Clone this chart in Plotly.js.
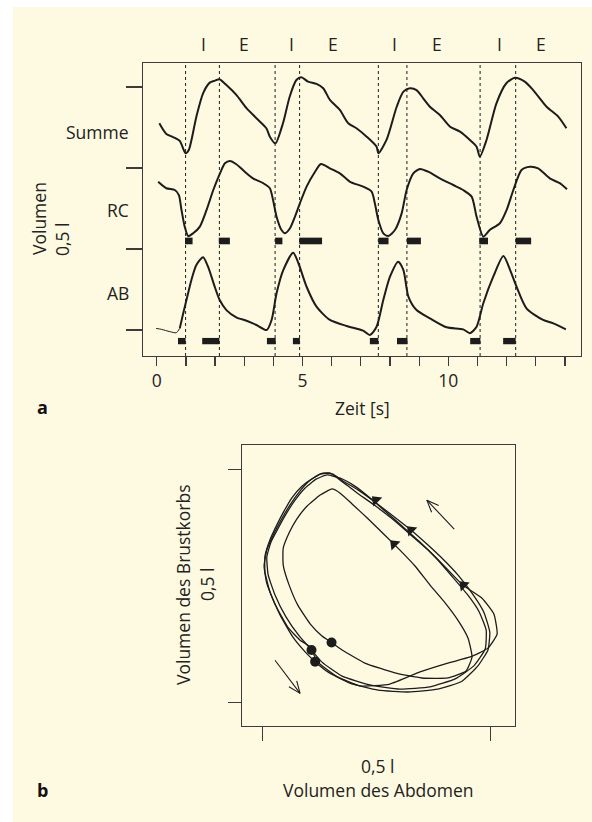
<!DOCTYPE html>
<html>
<head>
<meta charset="utf-8">
<script src="https://cdn.plot.ly/plotly-3.0.1.min.js"></script>
<style>
  html, body { margin: 0; padding: 0; background: #ffffff; }
  #chart { width: 592px; height: 822px; }
</style>
</head>
<body>
<div id="chart"></div>
<script>
// ---------- Panel a: time series (time in s, volume in l) ----------
const sumT = [0.09,0.33,0.56,0.79,0.99,1.10,1.36,1.59,1.82,2.00,2.15,2.39,2.73,3.08,3.42,3.76,3.88,4.07,4.33,4.56,4.79,4.96,5.19,5.48,5.71,5.94,6.28,6.57,6.85,7.20,7.54,7.60,7.88,8.23,8.46,8.68,8.91,9.14,9.37,9.71,10.06,10.40,10.74,10.97,11.08,11.31,11.65,11.99,12.28,12.62,12.91,13.37,13.77,14.05];
const sumV = [1.276,1.210,1.191,1.167,1.091,1.111,1.317,1.461,1.527,1.539,1.548,1.512,1.451,1.369,1.307,1.245,1.193,1.152,1.276,1.440,1.543,1.560,1.533,1.519,1.492,1.420,1.358,1.276,1.245,1.193,1.131,1.091,1.173,1.378,1.471,1.492,1.481,1.430,1.378,1.327,1.255,1.224,1.173,1.131,1.070,1.173,1.399,1.523,1.557,1.533,1.481,1.378,1.317,1.245];

const rcT = [0.05,0.33,0.62,0.76,0.85,0.96,1.08,1.25,1.48,1.71,1.94,2.17,2.34,2.51,2.73,3.02,3.30,3.65,3.88,3.99,4.11,4.28,4.40,4.57,4.74,4.91,5.14,5.43,5.63,5.94,6.28,6.63,7.08,7.37,7.48,7.60,7.77,7.94,8.17,8.40,8.57,8.80,9.03,9.31,9.71,10.17,10.51,10.80,10.97,11.20,11.42,11.77,12.00,12.23,12.51,12.80,13.08,13.48,13.82,14.07];
const rcV = [0.915,0.875,0.864,0.833,0.741,0.638,0.580,0.597,0.638,0.741,0.864,0.967,1.029,1.043,1.023,0.977,0.936,0.906,0.875,0.802,0.699,0.617,0.597,0.628,0.699,0.782,0.885,0.977,1.025,0.998,0.967,0.915,0.885,0.854,0.782,0.679,0.597,0.580,0.617,0.720,0.864,0.967,0.994,0.977,0.936,0.895,0.864,0.823,0.699,0.576,0.617,0.659,0.741,0.864,0.988,1.008,0.998,0.936,0.906,0.869];

const abT = [-0.02,0.16,0.45,0.67,0.79,0.91,1.02,1.19,1.36,1.59,1.76,1.99,2.16,2.39,2.73,3.08,3.42,3.77,3.94,4.11,4.34,4.68,4.86,5.14,5.48,5.94,6.51,7.08,7.31,7.54,7.77,8.00,8.28,8.46,8.63,8.91,9.37,9.94,10.51,10.74,10.97,11.20,11.54,11.89,12.12,12.34,12.68,13.25,13.60,14.03];
const abV = [0.010,0.004,-0.010,-0.017,0.010,0.103,0.185,0.309,0.401,0.449,0.391,0.267,0.185,0.123,0.078,0.057,0.031,0.000,0.062,0.227,0.370,0.477,0.412,0.267,0.144,0.062,0.025,-0.004,-0.031,0.020,0.185,0.329,0.422,0.370,0.206,0.123,0.072,0.017,0.004,-0.020,0.020,0.165,0.329,0.457,0.370,0.267,0.134,0.062,0.041,0.004];
// the AB trace is drawn thin up to this sample (faint start of the recording)
const abThinUntil = 4;

// I / E phase boundaries (dotted lines), s
const phaseLines = [0.99, 2.15, 4.06, 4.90, 7.60, 8.58, 11.09, 12.31];
// phase labels above the panel
const phaseLabels = ['I','E','I','E','I','E','I','E'];
const phaseLabelT = [1.59, 2.99, 4.61, 6.05, 8.17, 9.61, 11.74, 13.18];

// black activity bars (start / end, s)
const rcBarStart = [0.97, 2.13, 4.06, 4.89, 7.60, 8.58, 11.06, 12.31];
const rcBarEnd   = [1.23, 2.51, 4.31, 5.67, 7.95, 9.06, 11.36, 12.84];
const abBarStart = [0.73, 1.56, 3.78, 4.67, 7.31, 8.24, 10.75, 11.88];
const abBarEnd   = [0.99, 2.15, 4.08, 4.91, 7.60, 8.60, 11.10, 12.31];

const xTicks = [0,1,2,3,4,5,6,7,8,9,10,11,12,13,14];
const xTickText = ['0','','','','','5','','','','','10','','','',''];
const yTicks = [0, 0.5, 1.0, 1.5];
const traceNames = ['Summe','RC','AB'];

// ---------- Panel b: loops (Abdomen vs. Brustkorb, l) ----------
const loop1X = [0.151,0.174,0.224,0.290,0.349,0.406,0.446,0.459,0.450,0.428,0.400,0.367,0.334,0.301,0.268,0.231,0.196,0.170,0.152,0.126,0.097,0.075,0.058,0.045,0.045,0.058,0.077,0.104,0.130,0.151];
const loop1Y = [0.129,0.113,0.085,0.064,0.053,0.053,0.068,0.098,0.139,0.177,0.214,0.252,0.293,0.327,0.359,0.394,0.426,0.449,0.458,0.445,0.421,0.394,0.364,0.331,0.295,0.252,0.209,0.169,0.143,0.129];
const loop2X = [0.107,0.130,0.174,0.235,0.301,0.367,0.422,0.463,0.488,0.490,0.474,0.448,0.415,0.380,0.343,0.305,0.270,0.235,0.202,0.170,0.141,0.117,0.093,0.071,0.051,0.034,0.018,0.009,0.012,0.027,0.051,0.080,0.107];
const loop2Y = [0.113,0.087,0.057,0.038,0.029,0.034,0.051,0.079,0.115,0.156,0.196,0.233,0.271,0.310,0.346,0.379,0.409,0.439,0.464,0.481,0.488,0.479,0.460,0.434,0.404,0.374,0.344,0.312,0.274,0.231,0.184,0.143,0.113];
const loop3X = [0.115,0.143,0.191,0.253,0.319,0.384,0.437,0.472,0.494,0.498,0.485,0.459,0.428,0.395,0.360,0.325,0.286,0.246,0.209,0.176,0.154,0.132,0.110,0.086,0.064,0.047,0.031,0.016,0.005,0.005,0.016,0.038,0.066,0.093,0.115];
const loop3Y = [0.088,0.066,0.042,0.027,0.023,0.029,0.046,0.079,0.113,0.151,0.194,0.235,0.274,0.308,0.340,0.370,0.400,0.430,0.456,0.475,0.490,0.492,0.481,0.464,0.439,0.411,0.381,0.349,0.314,0.280,0.237,0.188,0.141,0.109,0.088];
const loop4X = [0.102,0.121,0.161,0.213,0.279,0.345,0.406,0.455,0.494,0.514,0.507,0.481,0.439,0.400,0.363,0.323,0.284,0.244,0.205,0.170,0.148,0.126,0.102,0.082,0.060,0.040,0.023,0.009,0.003,0.009,0.027,0.055,0.082,0.102];
const loop4Y = [0.121,0.087,0.057,0.036,0.040,0.066,0.085,0.098,0.117,0.147,0.190,0.224,0.252,0.291,0.327,0.361,0.394,0.424,0.451,0.477,0.492,0.490,0.475,0.454,0.424,0.391,0.359,0.327,0.293,0.256,0.211,0.162,0.134,0.121];

const dotX = [0.151, 0.107, 0.115];
const dotY = [0.129, 0.113, 0.088];
const triX = [0.288, 0.248, 0.325, 0.440];
const triY = [0.340, 0.434, 0.370, 0.252];

// direction arrows: tail -> head
const arrowTailX = [0.420, 0.027];
const arrowTailY = [0.372, 0.091];
const arrowHeadX = [0.360, 0.082];
const arrowHeadY = [0.434, 0.020];

const loopTicks = [0, 0.5];

// ---------- styling ----------
const INK = '#1c1c1c';
const AXC = '#3b3b3b';
const CREAM = '#fefae1';
const FONT = '"Open Sans", "Noto Sans", sans-serif';
const FS = 17.5;

// pixel helpers for paper-positioned text (figure is 592 x 822, zero margins)
const W = 592, H = 822;
const px = v => v / W;
const py = v => 1 - v / H;

// panel b geometry (pixels) and ranges
const B_XPIX = [242, 515], B_YPIX = [726, 445];
const B_XRANGE = [-0.0454, 0.5533], B_YRANGE = [-0.0499, 0.5522];
const kx = (B_XPIX[1] - B_XPIX[0]) / (B_XRANGE[1] - B_XRANGE[0]);
const ky = (B_YPIX[0] - B_YPIX[1]) / (B_YRANGE[1] - B_YRANGE[0]);

const traces = [];
[[sumT, sumV], [rcT, rcV]].forEach((d, i) => {
  traces.push({
    type: 'scatter', mode: 'lines', x: d[0], y: d[1], name: traceNames[i],
    xaxis: 'x', yaxis: 'y',
    line: { color: INK, width: 2, shape: 'spline', smoothing: 0.7 },
    hoverinfo: 'skip', showlegend: false
  });
});
traces.push({
  type: 'scatter', mode: 'lines', x: abT.slice(0, abThinUntil + 1), y: abV.slice(0, abThinUntil + 1),
  name: traceNames[2], xaxis: 'x', yaxis: 'y',
  line: { color: INK, width: 1, shape: 'spline', smoothing: 0.7 }, hoverinfo: 'skip', showlegend: false
});
traces.push({
  type: 'scatter', mode: 'lines', x: abT.slice(abThinUntil), y: abV.slice(abThinUntil),
  name: traceNames[2], xaxis: 'x', yaxis: 'y',
  line: { color: INK, width: 2, shape: 'spline', smoothing: 0.7 }, hoverinfo: 'skip', showlegend: false
});

[[loop1X, loop1Y], [loop2X, loop2Y], [loop3X, loop3Y], [loop4X, loop4Y]].forEach((d, i) => {
  traces.push({
    type: 'scatter', mode: 'lines', x: d[0], y: d[1], name: 'Loop ' + (i + 1),
    xaxis: 'x2', yaxis: 'y2',
    line: { color: INK, width: 1.3, shape: 'spline', smoothing: 0.45 },
    hoverinfo: 'skip', showlegend: false
  });
});

traces.push({
  type: 'scatter', mode: 'markers', x: dotX, y: dotY, xaxis: 'x2', yaxis: 'y2',
  marker: { color: INK, size: 10, line: { width: 0 } }, showlegend: false, hoverinfo: 'skip'
});
traces.push({
  type: 'scatter', mode: 'markers', x: triX, y: triY, xaxis: 'x2', yaxis: 'y2',
  marker: { color: INK, size: 11, symbol: 'triangle-up', angle: -45, line: { width: 0 } },
  showlegend: false, hoverinfo: 'skip'
});

// open-headed direction arrows (shaft + two barbs), barbs built in pixel space
const BARB = 13, HALF = 22 * Math.PI / 180;
const ax = [], ay = [];
arrowHeadX.forEach((hx, i) => {
  const hy = arrowHeadY[i], tx = arrowTailX[i], ty = arrowTailY[i];
  const dx = (hx - tx) * kx, dy = (hy - ty) * ky;
  const L = Math.hypot(dx, dy);
  const vx = -dx / L, vy = -dy / L;
  const barb = s => {
    const c = Math.cos(s * HALF), sn = Math.sin(s * HALF);
    const rx = vx * c - vy * sn, ry = vx * sn + vy * c;
    return [hx + BARB * rx / kx, hy + BARB * ry / ky];
  };
  const b1 = barb(1), b2 = barb(-1);
  ax.push(tx, hx, null, b1[0], hx, b2[0], null);
  ay.push(ty, hy, null, b1[1], hy, b2[1], null);
});
traces.push({
  type: 'scatter', mode: 'lines', x: ax, y: ay, xaxis: 'x2', yaxis: 'y2',
  line: { color: INK, width: 1.1 }, showlegend: false, hoverinfo: 'skip', connectgaps: false
});

const shapes = [];
// cream page background
shapes.push({ type: 'rect', xref: 'paper', yref: 'paper', x0: px(13), x1: 1, y0: 0, y1: py(7),
  fillcolor: CREAM, line: { width: 0 }, layer: 'below' });
// dotted phase lines
phaseLines.forEach(t => shapes.push({
  type: 'line', xref: 'x', yref: 'y domain', x0: t, x1: t, y0: 0, y1: 1,
  line: { color: INK, width: 1, dash: 'dot' }
}));
// black bars
const RC_BAR = [0.529, 0.570], AB_BAR = [-0.088, -0.049];
rcBarStart.forEach((s, i) => shapes.push({
  type: 'rect', xref: 'x', yref: 'y', x0: s, x1: rcBarEnd[i], y0: RC_BAR[0], y1: RC_BAR[1],
  fillcolor: INK, line: { width: 0 }
}));
abBarStart.forEach((s, i) => shapes.push({
  type: 'rect', xref: 'x', yref: 'y', x0: s, x1: abBarEnd[i], y0: AB_BAR[0], y1: AB_BAR[1],
  fillcolor: INK, line: { width: 0 }
}));

const txt = (text, x, y, opts) => Object.assign({
  text, x, y, xref: 'paper', yref: 'paper', showarrow: false,
  xanchor: 'center', yanchor: 'middle',
  font: { family: FONT, size: FS, color: '#222' }
}, opts || {});

const annotations = [];
phaseLabels.forEach((l, i) => annotations.push({
  text: l, x: phaseLabelT[i], xref: 'x', y: py(44), yref: 'paper', showarrow: false,
  xanchor: 'center', yanchor: 'middle', font: { family: FONT, size: FS, color: '#222' }
}));
annotations.push(txt(traceNames[0], px(131), py(132), { xanchor: 'right' }));
annotations.push(txt(traceNames[1], px(131), py(210), { xanchor: 'right' }));
annotations.push(txt(traceNames[2], px(131), py(293), { xanchor: 'right' }));
annotations.push(txt('Volumen', px(39), py(218), { textangle: -90 }));
annotations.push(txt('0,5 l', px(62), py(239), { textangle: -90 }));
annotations.push(txt('Zeit [s]', px(362), py(408)));
annotations.push(txt('<b>a</b>', px(42), py(407), { font: { family: FONT, size: 18, color: '#111' } }));
annotations.push(txt('<b>b</b>', px(42), py(790), { font: { family: FONT, size: 18, color: '#111' } }));
annotations.push(txt('0,5 l', px(378), py(766)));
annotations.push(txt('Volumen des Abdomen', px(378), py(790)));
annotations.push(txt('Volumen des Brustkorbs', px(183), py(585), { textangle: -90 }));
annotations.push(txt('0,5 l', px(207), py(584), { textangle: -90 }));

const axisCommon = {
  showgrid: false, zeroline: false, showline: true, mirror: true,
  linecolor: AXC, linewidth: 1.4, ticks: 'outside', tickcolor: AXC, tickwidth: 1.3,
  tickmode: 'array', fixedrange: true
};

const layout = {
  width: W, height: H,
  margin: { l: 0, r: 0, t: 0, b: 0 },
  paper_bgcolor: '#ffffff', plot_bgcolor: 'rgba(0,0,0,0)',
  font: { family: FONT, size: FS, color: '#222' },
  showlegend: false,
  xaxis: Object.assign({}, axisCommon, {
    domain: [px(143), px(581)], range: [-0.47, 14.55], anchor: 'y',
    tickvals: xTicks, ticktext: xTickText, ticklen: 9,
    tickfont: { family: FONT, size: FS, color: '#222' }
  }),
  yaxis: Object.assign({}, axisCommon, {
    domain: [py(356), py(63)], range: [-0.1605, 1.648], anchor: 'x',
    tickvals: yTicks, ticklen: 16, showticklabels: false
  }),
  xaxis2: Object.assign({}, axisCommon, {
    domain: [px(B_XPIX[0]), px(B_XPIX[1])], range: B_XRANGE, anchor: 'y2',
    tickvals: loopTicks, ticklen: 14, showticklabels: false
  }),
  yaxis2: Object.assign({}, axisCommon, {
    domain: [py(B_YPIX[0]), py(B_YPIX[1])], range: B_YRANGE, anchor: 'x2',
    tickvals: loopTicks, ticklen: 13, showticklabels: false
  }),
  shapes, annotations
};

Plotly.newPlot('chart', traces, layout, { staticPlot: true, displayModeBar: false });
</script>
</body>
</html>
